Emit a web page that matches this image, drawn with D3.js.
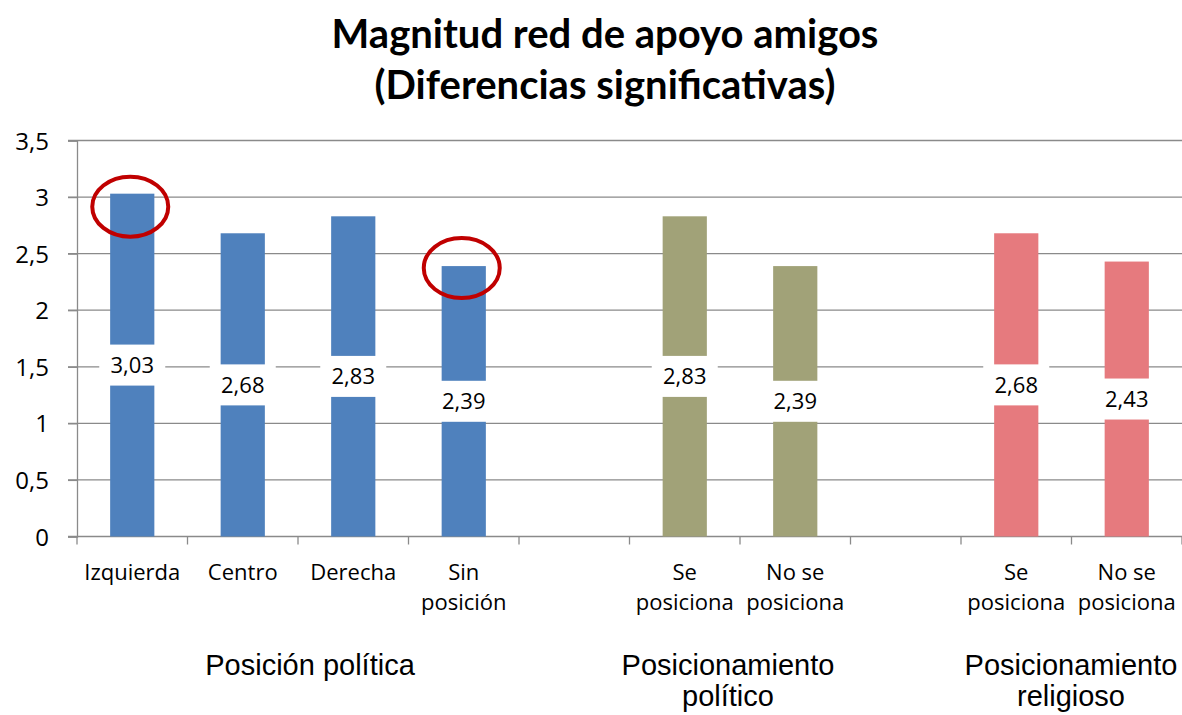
<!DOCTYPE html>
<html lang="es">
<head>
    <meta charset="UTF-8">
    <script src="https://cdnjs.cloudflare.com/ajax/libs/d3/7.8.5/d3.min.js" type="text/JavaScript"></script>
    <style>
        body { margin: 0; background: #fff; }
        text { font-family: "Open Sans", Lato, sans-serif; fill: #000; }
        .ttl { font-family: Lato, "Open Sans", sans-serif; }
        .grp { font-family: "Liberation Sans", Arial, sans-serif; }
    </style>
</head>
<body>
<div id="viz">
    <svg style="width:1182px;height:715px;"></svg>
</div>
<script>
    // data
    const categories = ['Izquierda', 'Centro', 'Derecha', 'Sin posición', '', 'Se posiciona', 'No se posiciona', '', 'Se posiciona', 'No se posiciona'];
    const tickLabels = [['Izquierda'], ['Centro'], ['Derecha'], ['Sin', 'posición'], [], ['Se', 'posiciona'], ['No se', 'posiciona'], [], ['Se', 'posiciona'], ['No se', 'posiciona']];
    const values = [3.03, 2.68, 2.83, 2.39, null, 2.83, 2.39, null, 2.68, 2.43];
    const groupOf = [0, 0, 0, 0, null, 1, 1, null, 2, 2];
    const groupNames = [['Posición política'], ['Posicionamiento', 'político'], ['Posicionamiento', 'religioso']];
    const groupColors = ['#4f81bd', '#a1a278', '#e67a7e'];
    const yTicks = [0, 0.5, 1, 1.5, 2, 2.5, 3, 3.5];
    const circled = [0, 3];

    const svg = d3.select('svg');
    const W = 1182, H = 715;

    const x = d3.scaleBand()
        .domain(d3.range(categories.length))
        .range([77, 1182])
        .paddingInner(0.6)
        .paddingOuter(0.3);
    const step = x.step();
    const y = d3.scaleLinear().domain([0, 3.5]).range([536.5, 140.5]);
    const fmt = v => String(v).replace('.', ',');

    // title
    const title = svg.append('text')
        .attr('class', 'ttl')
        .attr('text-anchor', 'middle')
        .style('font-weight', 700)
        .style('font-size', '40px');
    title.append('tspan').attr('x', 605).attr('y', 48).text('Magnitud red de apoyo amigos');
    title.append('tspan').attr('x', 605).attr('y', 99).text('(Diferencias significativas)');

    // gridlines
    svg.append('g').selectAll('line')
        .data(yTicks.slice(1)).enter()
        .append('line')
        .attr('x1', 68).attr('x2', W)
        .attr('y1', d => y(d)).attr('y2', d => y(d))
        .attr('stroke', '#8a8a8a').attr('stroke-width', 1.3);

    // y axis
    const yAxis = svg.append('g')
        .attr('transform', 'translate(77,0)')
        .call(d3.axisLeft(y).tickValues(yTicks).tickSize(9).tickFormat(fmt));
    yAxis.select('.domain').attr('stroke', '#8a8a8a').attr('stroke-width', 1.3);
    yAxis.selectAll('.tick line').attr('stroke', '#8a8a8a').attr('stroke-width', 1.3);
    yAxis.selectAll('.tick text')
        .attr('x', -28)
        .attr('dy', '0.36em')
        .style('font-size', '24px')
        .style('font-family', '"Open Sans", sans-serif');

    // x axis baseline + ticks on band boundaries
    const xg = svg.append('g');
    xg.append('line')
        .attr('x1', 68).attr('x2', W)
        .attr('y1', y(0)).attr('y2', y(0))
        .attr('stroke', '#8a8a8a').attr('stroke-width', 1.3);
    xg.selectAll('line.tk')
        .data(d3.range(categories.length + 1)).enter()
        .append('line').attr('class', 'tk')
        .attr('x1', i => 77 + i * step).attr('x2', i => 77 + i * step)
        .attr('y1', y(0)).attr('y2', y(0) + 8)
        .attr('stroke', '#8a8a8a').attr('stroke-width', 1.3);

    const rows = values.map((v, i) => ({ i, v, g: groupOf[i] })).filter(d => d.v !== null);

    // bars
    svg.append('g').selectAll('rect')
        .data(rows).enter()
        .append('rect')
        .attr('x', d => x(d.i))
        .attr('width', x.bandwidth())
        .attr('y', d => y(d.v))
        .attr('height', d => y(0) - y(d.v))
        .attr('fill', d => groupColors[d.g]);

    // data labels with white boxes, centred on bar
    const lab = svg.append('g').selectAll('g')
        .data(rows).enter()
        .append('g')
        .attr('transform', d => `translate(${x(d.i) + x.bandwidth() / 2},${(y(0) + y(d.v)) / 2})`);
    lab.append('rect')
        .attr('x', -33).attr('y', -20.5)
        .attr('width', 66).attr('height', 41)
        .attr('fill', '#fff');
    lab.append('text')
        .attr('text-anchor', 'middle')
        .attr('dy', '0.36em')
        .style('font-size', '22px')
        .text(d => d.v.toFixed(2).replace('.', ','));

    // red circles
    svg.append('g').selectAll('ellipse')
        .data(circled).enter()
        .append('ellipse')
        .attr('cx', i => x(i) + x.bandwidth() / 2 - 2)
        .attr('cy', (i, k) => y(values[i]) + (k === 0 ? 13 : 2))
        .attr('rx', 38).attr('ry', 30)
        .attr('fill', 'none')
        .attr('stroke', '#c00000')
        .attr('stroke-width', 4);

    // category labels
    const cl = svg.append('g').selectAll('text')
        .data(tickLabels).enter()
        .append('text')
        .attr('text-anchor', 'middle')
        .style('font-size', '22px');
    cl.each(function (lines, i) {
        const t = d3.select(this);
        lines.forEach((s, k) => {
            t.append('tspan')
                .attr('x', x(i) + x.bandwidth() / 2)
                .attr('y', 580 + k * 30)
                .text(s);
        });
    });

    // group labels (text boxes)
    const groupX = [310, 728, 1071];
    groupNames.forEach((lines, g) => {
        const t = svg.append('text').attr('class', 'grp')
            .attr('text-anchor', 'middle')
            .style('font-size', '29px');
        lines.forEach((s, k) => {
            t.append('tspan').attr('x', groupX[g]).attr('y', 675 + k * 31).text(s);
        });
    });
</script>
</body>
</html>
